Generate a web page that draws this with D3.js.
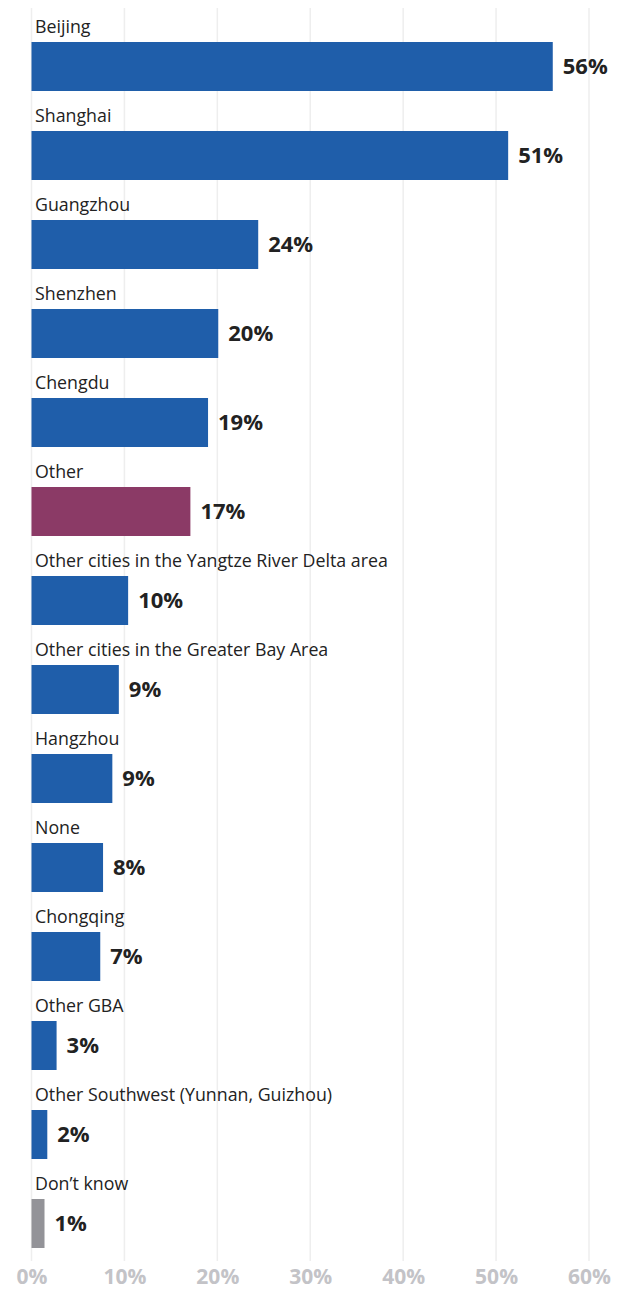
<!DOCTYPE html>
<html>
<head>
<meta charset="utf-8">
<script src="https://cdn.jsdelivr.net/npm/d3@7"></script>
<style>
  html, body { margin: 0; padding: 0; background: #fff; }
  svg { display: block; }
</style>
</head>
<body>
<svg id="chart" width="624" height="1291"></svg>
<script>
// City shares (%), in display order
const categories = [
  "Beijing",
  "Shanghai",
  "Guangzhou",
  "Shenzhen",
  "Chengdu",
  "Other",
  "Other cities in the Yangtze River Delta area",
  "Other cities in the Greater Bay Area",
  "Hangzhou",
  "None",
  "Chongqing",
  "Other GBA",
  "Other Southwest (Yunnan, Guizhou)",
  "Don\u2019t know"
];
const values = [56.1, 51.3, 24.4, 20.1, 19.0, 17.1, 10.4, 9.4, 8.7, 7.7, 7.4, 2.7, 1.7, 1.4];
const tickValues = [0, 10, 20, 30, 40, 50, 60];

const colorFor = name =>
  name === "Other" ? "#8b3a66" :
  name === "Don\u2019t know" ? "#939398" : "#1f5eaa";

const svg = d3.select("#chart");
const font = "'Segoe UI', 'Open Sans', 'Noto Sans', sans-serif";

const x = d3.scaleLinear().domain([0, 60]).range([31.5, 589]);
const y = d3.scaleBand()
  .domain(categories)
  .range([42, 1248])
  .paddingInner(40 / 89)
  .paddingOuter(0);

const data = categories.map((c, i) => ({ name: c, value: values[i] }));

// Vertical gridlines
svg.append("g")
  .selectAll("line")
  .data(tickValues)
  .join("line")
  .attr("x1", d => x(d)).attr("x2", d => x(d))
  .attr("y1", 8).attr("y2", 1261)
  .attr("stroke", "#eeeeee")
  .attr("stroke-width", 1.5);

// Axis tick labels
const axis = svg.append("g")
  .attr("transform", "translate(0,1261)")
  .call(d3.axisBottom(x).tickValues(tickValues).tickFormat(d => d + "%").tickSize(0).tickPadding(8));
axis.select(".domain").remove();
axis.selectAll("text")
  .attr("font-family", font)
  .attr("font-size", 21)
  .attr("font-weight", 700)
  .attr("fill", "#c3c3c7");

const rows = svg.append("g")
  .selectAll("g")
  .data(data)
  .join("g");

rows.append("rect")
  .attr("x", x(0))
  .attr("y", d => y(d.name))
  .attr("width", d => x(d.value) - x(0))
  .attr("height", y.bandwidth())
  .attr("fill", d => colorFor(d.name));

rows.append("text")
  .attr("x", 35)
  .attr("y", d => y(d.name) - 9)
  .attr("font-family", font)
  .attr("font-size", 17.8)
  .attr("fill", "#222")
  .text(d => d.name);

rows.append("text")
  .attr("x", d => x(d.value) + 10)
  .attr("y", d => y(d.name) + y.bandwidth() / 2)
  .attr("dy", "0.36em")
  .attr("font-family", font)
  .attr("font-size", 22)
  .attr("font-weight", 700)
  .attr("fill", "#222")
  .text(d => Math.round(d.value) + "%");
</script>
</body>
</html>
